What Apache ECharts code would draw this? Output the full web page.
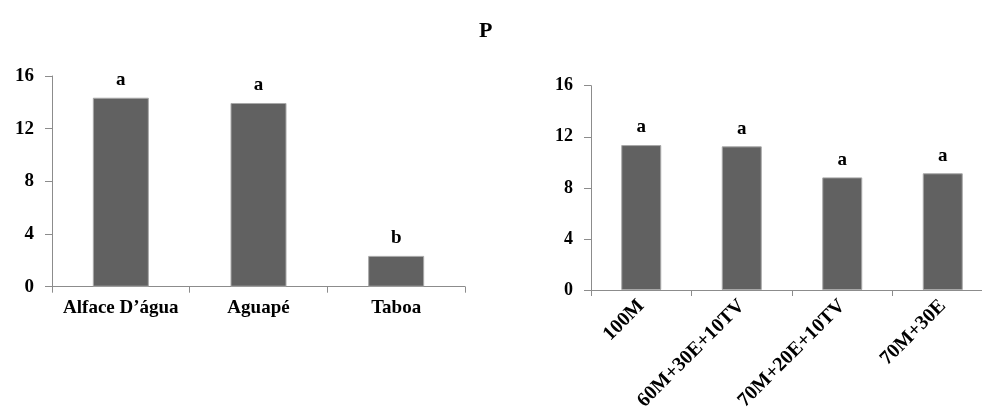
<!DOCTYPE html>
<html><head><meta charset="utf-8">
<script src="https://cdn.jsdelivr.net/npm/echarts@6/dist/echarts.min.js"></script>
<style>html,body{margin:0;padding:0;background:#fff}#c{width:982px;height:408px}</style>
</head><body><div id="c"></div>
<script>
const title = "P";
const leftCategories = ["Alface D’água", "Aguapé", "Taboa"];
const leftValues = [14.35, 13.95, 2.34];
const leftLetters = ["a", "a", "b"];
const rightCategories = ["100M", "60M+30E+10TV", "70M+20E+10TV", "70M+30E"];
const rightValues = [11.35, 11.25, 8.82, 9.14];
const rightLetters = ["a", "a", "a", "a"];
const yTicks = [0, 4, 8, 12, 16];

const serif = '"Liberation Serif", "DejaVu Serif", serif';
const axisLineColor = '#8c8c8c';
const barColor = '#616161';

function yAxis(gi, fs) {
  return {
    type: 'value', gridIndex: gi, min: yTicks[0], max: yTicks[yTicks.length - 1],
    interval: yTicks[1] - yTicks[0],
    axisLine: { show: true, lineStyle: { color: axisLineColor, width: 1 } },
    axisTick: { show: true, length: 7, lineStyle: { color: axisLineColor } },
    splitLine: { show: false },
    axisLabel: { color: '#000', fontFamily: serif, fontWeight: 'bold', fontSize: fs, margin: 18 }
  };
}
function xAxis(gi, cats, extra) {
  return Object.assign({
    type: 'category', gridIndex: gi, data: cats,
    axisLine: { show: true, lineStyle: { color: axisLineColor, width: 1 } },
    axisTick: { show: true, length: 6, alignWithLabel: false, lineStyle: { color: axisLineColor } },
  }, extra);
}
function barSeries(xi, vals, letters, bw) {
  return {
    type: 'bar', xAxisIndex: xi, yAxisIndex: xi, data: vals, barWidth: bw,
    itemStyle: { color: barColor, borderColor: '#a8a8a8', borderWidth: 1 },
    label: {
      show: true, position: 'top', distance: 8,
      formatter: p => letters[p.dataIndex],
      color: '#000', fontFamily: serif, fontWeight: 'bold', fontSize: 19
    },
    silent: true
  };
}

const chart = echarts.init(document.getElementById('c'), null, { renderer: 'canvas' });
chart.setOption({
  backgroundColor: '#fff',
  animation: false,
  title: {
    text: title, left: 474, top: 15,
    textStyle: { fontFamily: serif, fontWeight: 'bold', fontSize: 22, color: '#000' }
  },
  grid: [
    { left: 52, top: 76, width: 413, height: 210.7, containLabel: false, outerBoundsMode: 'none' },
    { left: 591, top: 85.7, width: 402, height: 204.3, containLabel: false, outerBoundsMode: 'none' }
  ],
  xAxis: [
    xAxis(0, leftCategories, {
      axisLabel: { color: '#000', fontFamily: serif, fontWeight: 'bold', fontSize: 19, margin: 12, interval: 0 }
    }),
    xAxis(1, rightCategories, {
      axisLabel: { color: '#000', fontFamily: serif, fontWeight: 'bold', fontSize: 20, rotate: 45, margin: 13, interval: 0 }
    })
  ],
  yAxis: [yAxis(0, 19), yAxis(1, 18)],
  series: [
    barSeries(0, leftValues, leftLetters, 56),
    barSeries(1, rightValues, rightLetters, 40)
  ]
});
</script></body></html>
